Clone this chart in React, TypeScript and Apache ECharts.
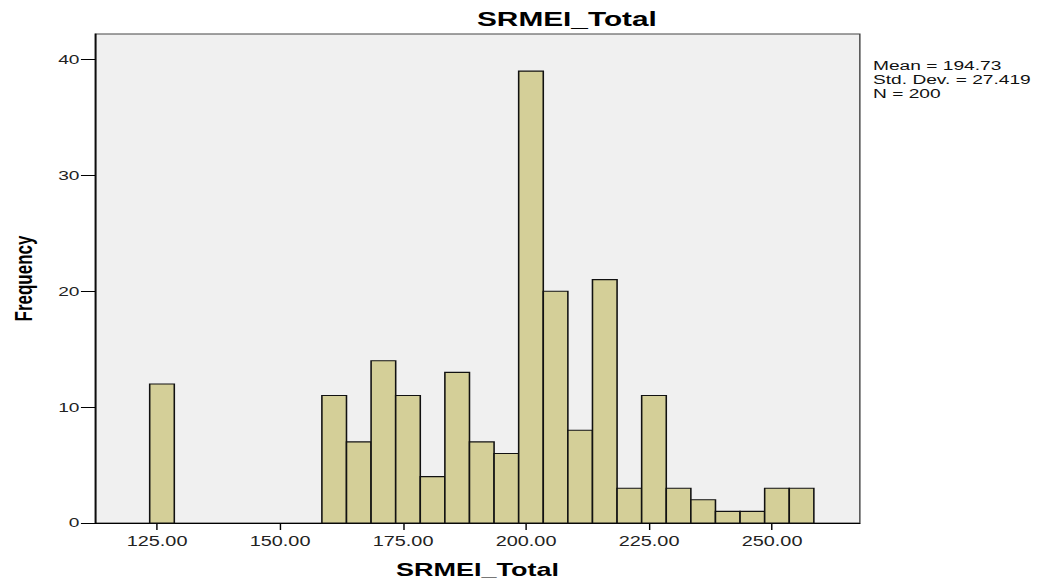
import React, { useEffect, useRef } from "react";
import * as echarts from "echarts";

// ---- data ----
const binWidth = 5;
const binStarts = [123.5, 158.5, 163.5, 168.5, 173.5, 178.5, 183.5, 188.5, 193.5, 198.5, 203.5, 208.5, 213.5, 218.5, 223.5, 228.5, 233.5, 238.5, 243.5, 248.5, 253.5];
const counts = [12, 11, 7, 14, 11, 4, 13, 7, 6, 39, 20, 8, 21, 3, 11, 3, 2, 1, 1, 3, 3];
const xTicks = [125, 150, 175, 200, 225, 250];
const yTicks = [0, 10, 20, 30, 40];
const statLines = ["Mean = 194.73", "Std. Dev. = 27.419", "N = 200"];
const titleText = "SRMEI_Total";
const xName = "SRMEI_Total";
const yName = "Frequency";

// The reference is horizontally stretched; draw in a narrower box and stretch it.
const SX = 1.42;
const FULL_W = 1041;
const FULL_H = 584;
const W = FULL_W / SX;
const FONT = "'Liberation Sans', Arial, sans-serif";

export default function App() {
  const ref = useRef<HTMLDivElement>(null);

  useEffect(() => {
    if (!ref.current) return;
    const chart = echarts.init(ref.current, undefined, { renderer: "svg" });
    const data = binStarts.map((s, i) => [s, s + binWidth, counts[i]]);
    const plotLeft = 91 / SX;
    const plotRight = 860 / SX;

    chart.setOption({
      animation: false,
      backgroundColor: "#ffffff",
      title: {
        text: titleText,
        left: 477 / SX,
        top: 8,
        padding: 0,
        textStyle: { fontFamily: FONT, fontSize: 21, fontWeight: "bold", color: "#000" },
      },
      grid: {
        left: plotLeft,
        right: W - plotRight,
        top: 34,
        bottom: 56,
        show: true,
        backgroundColor: "#F0F0F0",
        borderColor: "#444",
        borderWidth: 1,
      },
      xAxis: {
        type: "value",
        min: 112.41,
        max: 267.85,
        name: xName,
        nameLocation: "middle",
        nameGap: 37,
        nameTextStyle: { fontFamily: FONT, fontSize: 19, fontWeight: "bold", color: "#000" },
        axisLine: { show: true, lineStyle: { color: "#000", width: 1 } },
        axisTick: { show: true, length: 7, customValues: xTicks, lineStyle: { color: "#000" } },
        axisLabel: {
          customValues: xTicks,
          margin: 11,
          fontFamily: FONT,
          fontSize: 14,
          color: "#222",
          formatter: (v: number) => v.toFixed(2),
        },
        splitLine: { show: false },
      },
      yAxis: {
        type: "value",
        min: 0,
        max: 42.2,
        name: yName,
        nameLocation: "middle",
        nameGap: 42,
        nameTextStyle: { fontFamily: FONT, fontSize: 17, fontWeight: "bold", color: "#000" },
        axisLine: { show: true, lineStyle: { color: "#000", width: 1 } },
        axisTick: { show: true, length: 10, customValues: yTicks, lineStyle: { color: "#000" } },
        axisLabel: {
          customValues: yTicks,
          margin: 11,
          fontFamily: FONT,
          fontSize: 13.5,
          color: "#222",
        },
        splitLine: { show: false },
      },
      graphic: statLines.map((line, i) => ({
        type: "text",
        left: 873 / SX,
        top: 59 + i * 13.8,
        style: {
          text: line,
          fontFamily: FONT,
          fontSize: 13.5,
          lineHeight: 13.5,
          fill: "#111",
        },
      })),
      series: [
        {
          type: "custom",
          data,
          encode: { x: [0, 1], y: 2 },
          renderItem: (_params: any, api: any) => {
            const start = api.value(0);
            const end = api.value(1);
            const cnt = api.value(2);
            const p0 = api.coord([start, 0]);
            const p1 = api.coord([end, cnt]);
            return {
              type: "rect",
              shape: { x: p0[0], y: p1[1], width: p1[0] - p0[0], height: p0[1] - p1[1] },
              style: { fill: "#D4CF98", stroke: "#111", lineWidth: 1.1 },
            };
          },
        },
      ],
    });

    return () => chart.dispose();
  }, []);

  return (
    <div
      style={{
        position: "fixed",
        left: 0,
        top: 0,
        width: FULL_W,
        height: FULL_H,
        overflow: "hidden",
        background: "#fff",
      }}
    >
      <div
        ref={ref}
        style={{
          width: W,
          height: FULL_H,
          transform: `scaleX(${SX})`,
          transformOrigin: "0 0",
        }}
      />
    </div>
  );
}
